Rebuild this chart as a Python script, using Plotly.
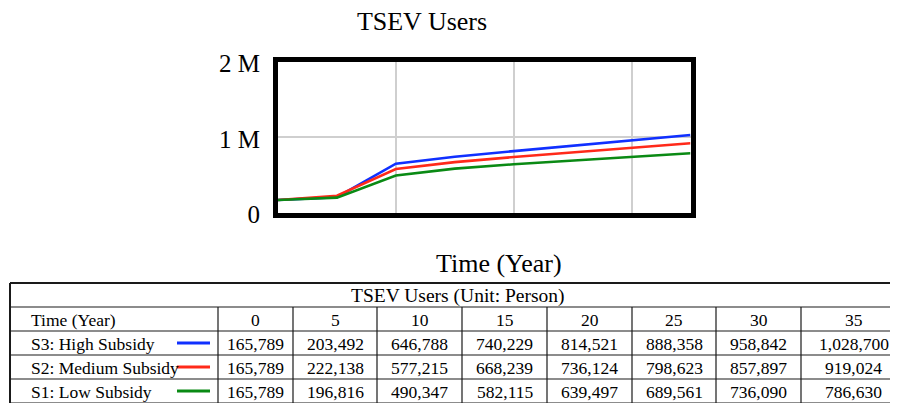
import plotly.graph_objects as go

# the page body has an 8px margin, so the figure is drawn 8px smaller and
# every reference pixel is mapped with that offset
W, H = 898, 403
OFF = 8
FIG_W, FIG_H = W - OFF, H - OFF
FONT = "Liberation Serif, Times New Roman, serif"

years = [0, 5, 10, 15, 20, 25, 30, 35]
high_subsidy = [165789, 203492, 646788, 740229, 814521, 888358, 958842, 1028700]
medium_subsidy = [165789, 222138, 577215, 668239, 736124, 798623, 857897, 919024]
low_subsidy = [165789, 196816, 490347, 582115, 639497, 689561, 736090, 786630]
scenario_names = ["S3: High Subsidy", "S2: Medium Subsidy", "S1: Low Subsidy"]
scenario_colors = ["#1030ff", "#ff2a1a", "#0a8a14"]
y_tickvals = [0, 1000000, 2000000]
y_ticktext = ["0", "1 M", "2 M"]
table_title = "TSEV Users (Unit: Person)"
time_label = "Time (Year)"

series = [high_subsidy, medium_subsidy, low_subsidy]


def px_x(x):
    return (x - OFF) / FIG_W


def px_y(y):
    return 1 - (y - OFF) / FIG_H


fig = go.Figure()

for name, vals, col in zip(scenario_names, series, scenario_colors):
    fig.add_trace(go.Scatter(x=years, y=vals, mode="lines", name=name,
                             line=dict(color=col, width=2.6), showlegend=False))

# ---- table drawn with shapes + annotations (pixel layout of the reference)
# last column runs past the right edge of the picture, like the original
col_edges = [10, 218, 293, 377, 462, 547, 632, 716, 801, 906]
row_edges = [283, 307, 331, 355, 379, 403]
line_col = "#1a1a1a"
TFONT = 17.5


def hline(y, w):
    fig.add_shape(type="line", xref="paper", yref="paper",
                  x0=px_x(col_edges[0]), x1=px_x(col_edges[-1]),
                  y0=px_y(y), y1=px_y(y), line=dict(color=line_col, width=w))


def vline(x, y0, y1, w):
    fig.add_shape(type="line", xref="paper", yref="paper",
                  x0=px_x(x), x1=px_x(x), y0=px_y(y0), y1=px_y(y1),
                  line=dict(color=line_col, width=w))


for i, y in enumerate(row_edges):
    hline(y, 2 if i == 0 else 1.2)
vline(col_edges[0], row_edges[0], row_edges[-1], 2)
vline(col_edges[-1], row_edges[0], row_edges[-1], 2)
for x in col_edges[1:-1]:
    vline(x, row_edges[1], row_edges[-1], 1.2)


def cell_text(text, row, col=None, size=TFONT, x=None, anchor="center"):
    yc = (row_edges[row] + row_edges[row + 1]) / 2 + 1
    if x is None:
        x = (col_edges[col] + col_edges[col + 1]) / 2
    fig.add_annotation(text=text, xref="paper", yref="paper",
                       x=px_x(x), y=px_y(yc), showarrow=False,
                       xanchor=anchor, yanchor="middle",
                       font=dict(family=FONT, size=size, color="black"))


cell_text(table_title, 0, x=(col_edges[0] + col_edges[-1]) / 2, size=19.5)
cell_text(time_label, 1, x=29, anchor="left")
for j, yr in enumerate(years):
    cell_text(str(yr), 1, col=j + 1)
for i, (name, vals) in enumerate(zip(scenario_names, series)):
    cell_text(name, i + 2, x=29, anchor="left")
    for j, v in enumerate(vals):
        cell_text(f"{v:,}", i + 2, col=j + 1)

# legend keys inside the first table column
for i, col in enumerate(scenario_colors):
    yc = px_y((row_edges[i + 2] + row_edges[i + 3]) / 2)
    fig.add_shape(type="line", xref="paper", yref="paper",
                  x0=px_x(177), x1=px_x(210), y0=yc, y1=yc,
                  line=dict(color=col, width=3))

fig.add_annotation(text=time_label, xref="paper", yref="paper",
                   x=px_x(499), y=px_y(263), showarrow=False,
                   xanchor="center", yanchor="middle",
                   font=dict(family=FONT, size=26, color="black"))

fig.update_layout(
    template="none",
    width=FIG_W, height=FIG_H,
    margin=dict(l=0, r=0, t=0, b=0, pad=0),
    paper_bgcolor="white", plot_bgcolor="white",
    title=dict(text="TSEV Users", x=px_x(422), xanchor="center",
               y=px_y(21), yanchor="middle",
               font=dict(family=FONT, size=26, color="black")),
    xaxis=dict(domain=[px_x(278), px_x(690.5)], range=[0, 35],
               tickvals=[10, 20, 30], showticklabels=False, ticks="",
               showgrid=True, gridcolor="#cfcfcf", gridwidth=2,
               showline=True, linecolor="black", linewidth=5, mirror=True,
               zeroline=False, automargin=False),
    yaxis=dict(domain=[px_y(212.5), px_y(61.7)], range=[0, 2000000],
               tickvals=y_tickvals, ticktext=y_ticktext, ticks="",
               ticklabelstandoff=8, ticklabelshift=2,
               tickfont=dict(family=FONT, size=25, color="black"),
               showgrid=True, gridcolor="#cfcfcf", gridwidth=2,
               showline=True, linecolor="black", linewidth=5, mirror=True,
               zeroline=False, automargin=False),
)

fig.write_html("out.html")
